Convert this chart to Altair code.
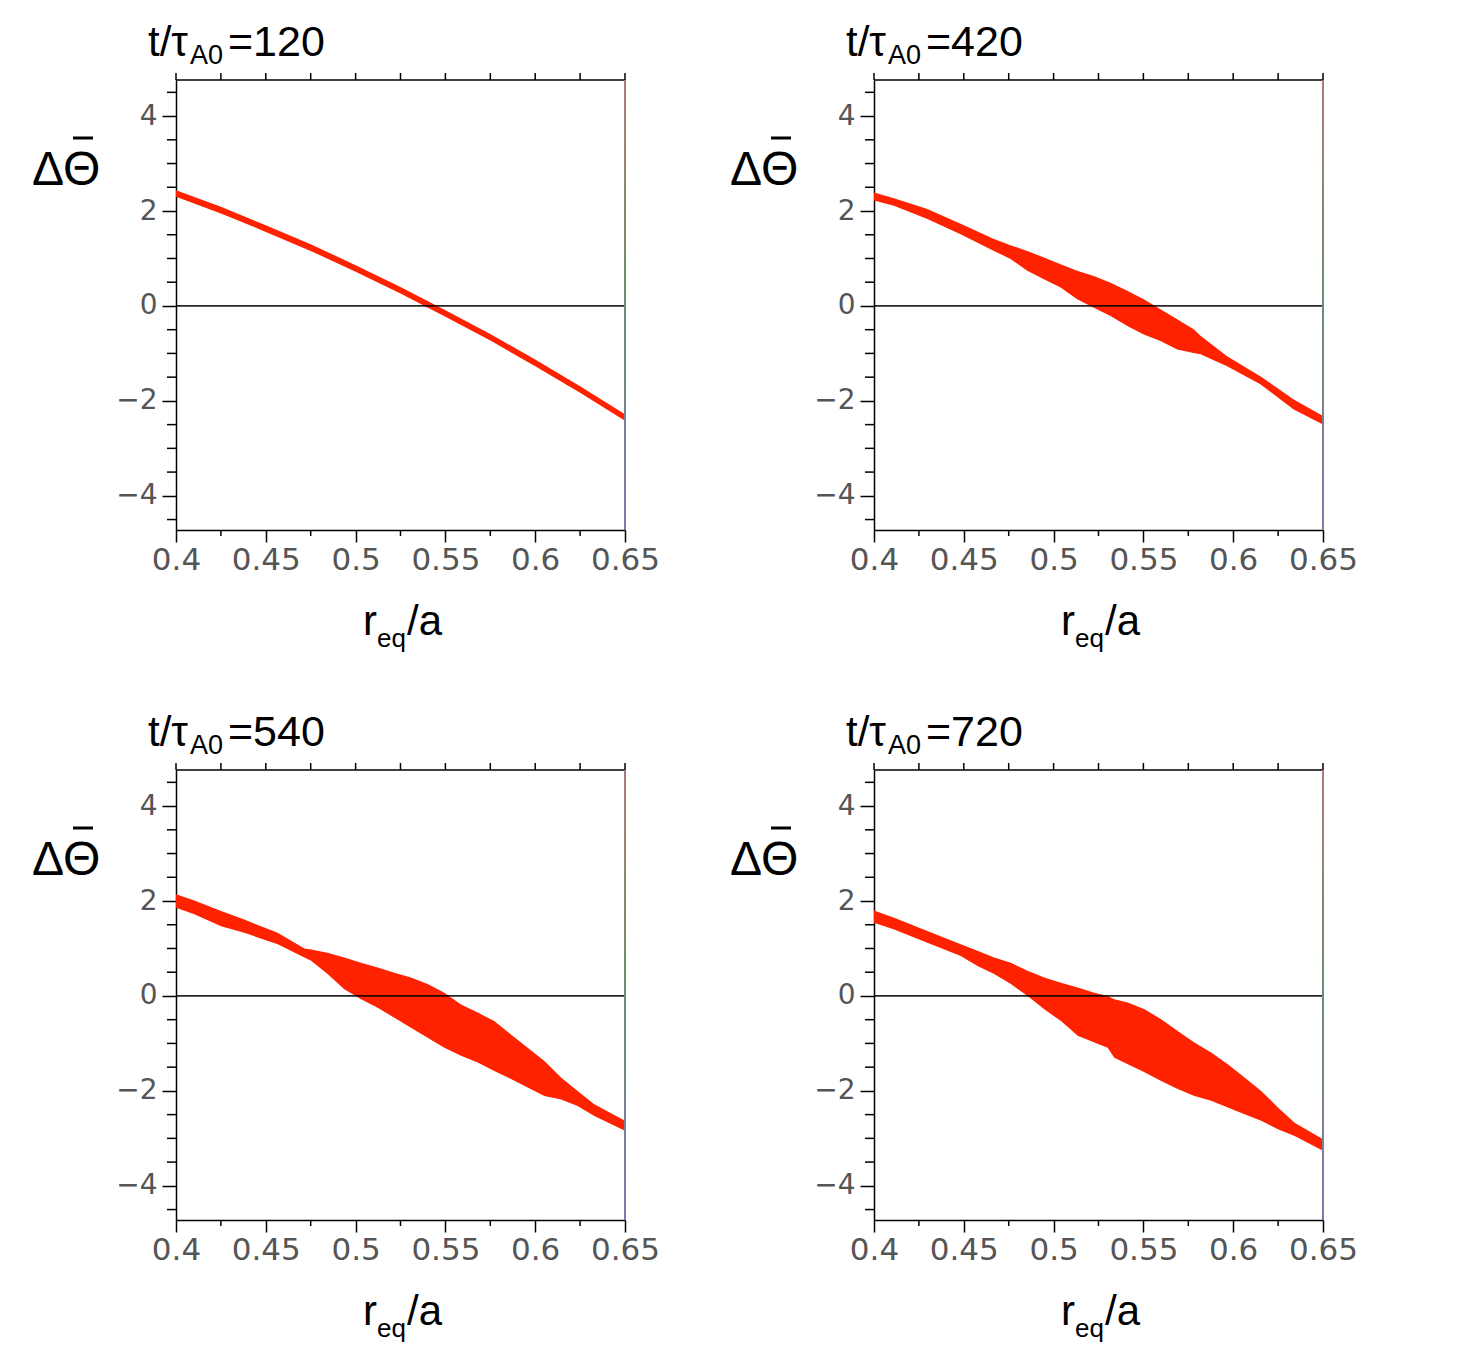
import altair as alt
import pandas as pd

# ---------------- data ----------------
times = ["120", "420", "540", "720"]

# t/tau_A0 = 120
p1_x = [0.4, 0.425, 0.45, 0.475, 0.5, 0.525, 0.55, 0.575, 0.6, 0.625, 0.65]
p1_upper = [2.44, 2.09, 1.70, 1.30, 0.86, 0.40, -0.09, -0.59, -1.13, -1.69, -2.28]
p1_lower = [2.30, 1.95, 1.56, 1.16, 0.72, 0.26, -0.23, -0.73, -1.27, -1.83, -2.42]

# t/tau_A0 = 420
p2_x = [0.4, 0.4111, 0.4297, 0.4482, 0.4668, 0.4760, 0.4853, 0.4946, 0.5039, 0.5131,
        0.5224, 0.5317, 0.5410, 0.5502, 0.5595, 0.5688, 0.5780, 0.5818, 0.5966, 0.6151,
        0.6337, 0.65]
p2_upper = [2.39, 2.27, 2.04, 1.73, 1.41, 1.28, 1.16, 1.02, 0.88, 0.74,
            0.63, 0.49, 0.32, 0.14, -0.07, -0.28, -0.49, -0.63, -1.06, -1.48,
            -1.97, -2.32]
p2_lower = [2.22, 2.11, 1.83, 1.51, 1.16, 0.99, 0.74, 0.56, 0.39, 0.14,
            -0.04, -0.21, -0.42, -0.60, -0.74, -0.92, -0.99, -1.02, -1.27, -1.65,
            -2.18, -2.50]

# t/tau_A0 = 540
p3_x = [0.4, 0.4102, 0.4251, 0.4380, 0.4566, 0.4715, 0.4752, 0.4844, 0.4937, 0.5030,
        0.5123, 0.5216, 0.5308, 0.5401, 0.5494, 0.5587, 0.5680, 0.5772, 0.5865, 0.5958,
        0.6051, 0.6144, 0.6236, 0.6329, 0.65]
p3_upper = [2.14, 2.01, 1.79, 1.61, 1.33, 1.00, 0.98, 0.91, 0.81, 0.70,
            0.60, 0.49, 0.39, 0.25, 0.07, -0.18, -0.35, -0.53, -0.81, -1.09,
            -1.37, -1.72, -2.00, -2.28, -2.63]
p3_lower = [1.86, 1.72, 1.47, 1.33, 1.09, 0.81, 0.74, 0.46, 0.14, -0.07,
            -0.25, -0.46, -0.67, -0.88, -1.09, -1.26, -1.40, -1.58, -1.75, -1.93,
            -2.11, -2.18, -2.32, -2.53, -2.84]

# t/tau_A0 = 720
p4_x = [0.4, 0.4112, 0.4297, 0.4483, 0.4576, 0.4669, 0.4762, 0.4855, 0.4948, 0.5041,
        0.5134, 0.5227, 0.5301, 0.5338, 0.5413, 0.5506, 0.5599, 0.5691, 0.5784, 0.5877,
        0.5970, 0.6063, 0.6156, 0.6249, 0.6342, 0.65]
p4_upper = [1.80, 1.65, 1.37, 1.09, 0.95, 0.81, 0.70, 0.53, 0.39, 0.28,
            0.18, 0.07, 0.00, -0.07, -0.14, -0.28, -0.49, -0.74, -0.98, -1.19,
            -1.44, -1.72, -2.00, -2.35, -2.67, -3.02]
p4_lower = [1.54, 1.40, 1.12, 0.84, 0.63, 0.46, 0.25, 0.00, -0.28, -0.53,
            -0.84, -0.98, -1.09, -1.30, -1.44, -1.61, -1.79, -1.96, -2.11, -2.21,
            -2.35, -2.49, -2.63, -2.81, -2.95, -3.26]

x_major = [0.4, 0.45, 0.5, 0.55, 0.6, 0.65]
x_minor = [0.425, 0.475, 0.525, 0.575, 0.625]
x_top = [0.4, 0.425, 0.45, 0.475, 0.5, 0.525, 0.55, 0.575, 0.6, 0.625, 0.65]
y_major = [-4, -2, 0, 2, 4]
y_minor = [-4.5, -3.5, -3, -2.5, -1.5, -1, -0.5, 0.5, 1, 1.5, 2.5, 3, 3.5, 4.5]

X_DOMAIN = [0.4, 0.65]
Y_DOMAIN = [-4.72, 4.76]

# ---------------- styling ----------------
W, H = 449, 450
RED = "#ff2200"
FONT = "Liberation Sans"
TICKFONT = "DejaVu Sans"

xs = alt.Scale(domain=X_DOMAIN, nice=False, zero=False)
ys = alt.Scale(domain=Y_DOMAIN, nice=False, zero=False)

XAXIS = alt.Axis(values=x_major, format=".2~f", title=None, grid=False,
                 tickSize=12, tickWidth=1.5, tickColor="black",
                 domainColor="black", domainWidth=1.5,
                 labelFont=TICKFONT, labelFontSize=31, labelColor="#555",
                 labelPadding=3, labelFlush=False, labelOverlap=False)
YAXIS = alt.Axis(values=y_major, format="d", title=None, grid=False,
                 tickSize=14, tickWidth=1.5, tickColor="black",
                 domainColor="black", domainWidth=1.5,
                 labelFont=TICKFONT, labelFontSize=28, labelColor="#555",
                 labelPadding=5, labelOverlap=False)


def panel(xv, up, lo, tlabel):
    df = pd.DataFrame({"x": xv, "up": up, "lo": lo})
    band = alt.Chart(df).mark_area(color=RED, opacity=1, interpolate="linear").encode(
        x=alt.X("x:Q", scale=xs, axis=XAXIS),
        y=alt.Y("up:Q", scale=ys, axis=YAXIS),
        y2="lo:Q",
    )
    zero = alt.Chart(pd.DataFrame({"v": [0]})).mark_rule(
        color="black", strokeWidth=1.8, opacity=0.85
    ).encode(y=alt.Y("v:Q", scale=ys, axis=YAXIS))

    yminor = alt.Chart(pd.DataFrame({"v": y_minor})).mark_rule(
        color="black", strokeWidth=1.5
    ).encode(y=alt.Y("v:Q", scale=ys, axis=YAXIS), x=alt.value(-9), x2=alt.value(0))

    xminor = alt.Chart(pd.DataFrame({"v": x_minor})).mark_rule(
        color="black", strokeWidth=1.5
    ).encode(x=alt.X("v:Q", scale=xs, axis=XAXIS), y=alt.value(H), y2=alt.value(H + 6))

    xtop = alt.Chart(pd.DataFrame({"v": x_top})).mark_rule(
        color="black", strokeWidth=1.5
    ).encode(x=alt.X("v:Q", scale=xs, axis=XAXIS), y=alt.value(-7), y2=alt.value(0))

    topline = alt.Chart(pd.DataFrame({"v": [0]})).mark_rule(
        color="black", strokeWidth=1.5
    ).encode(x=alt.value(0), x2=alt.value(W), y=alt.value(0))

    rightline = alt.Chart(pd.DataFrame({"v": [0]})).mark_rect(
        fill=alt.LinearGradient(
            gradient="linear", x1=0, x2=0, y1=0, y2=1,
            stops=[alt.GradientStop(color="#b07a7a", offset=0),
                   alt.GradientStop(color="#6f8f6f", offset=0.45),
                   alt.GradientStop(color="#7a7ab0", offset=1)])
    ).encode(x=alt.value(W - 1), x2=alt.value(W + 1), y=alt.value(0), y2=alt.value(H))

    def txt(s, x, y, size, align="left"):
        return alt.Chart(pd.DataFrame({"s": [s]})).mark_text(
            font=FONT, fontSize=size, align=align, baseline="alphabetic", color="black"
        ).encode(text="s:N", x=alt.value(x), y=alt.value(y))

    title = [txt("t/τ", -28, -24, 42), txt("A0", 14, -16, 27), txt("=" + tlabel, 52, -24, 43)]
    ylab = [txt("ΔΘ", -144, 105, 48)]
    overbar = alt.Chart(pd.DataFrame({"v": [0]})).mark_rule(
        color="black", strokeWidth=3
    ).encode(x=alt.value(-103), x2=alt.value(-83), y=alt.value(58))
    xlab = [txt("r", 187, 555, 42), txt("eq", 201, 567, 26), txt("/a", 231, 555, 42)]

    return alt.layer(band, zero, yminor, xminor, xtop, topline, rightline, overbar,
                     *title, *ylab, *xlab).properties(width=W, height=H)


panels = [
    panel(p1_x, p1_upper, p1_lower, times[0]),
    panel(p2_x, p2_upper, p2_lower, times[1]),
    panel(p3_x, p3_upper, p3_lower, times[2]),
    panel(p4_x, p4_upper, p4_lower, times[3]),
]

chart = alt.concat(
    *panels, columns=2, spacing={"row": 240, "column": 249}, bounds="flush"
).properties(
    padding={"left": 24, "top": 14, "right": 5, "bottom": 5},
    background="white",
).configure_view(stroke=None)

chart.save("out.html", embed_options={"renderer": "svg", "actions": False})
